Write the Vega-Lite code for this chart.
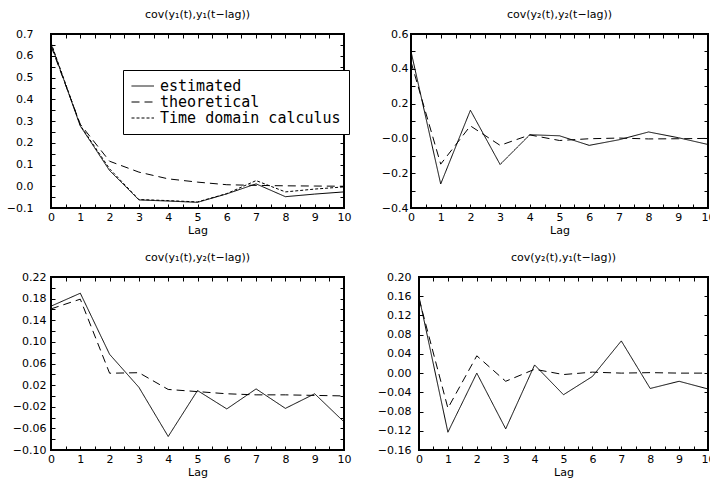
{
  "$schema": "https://vega.github.io/schema/vega-lite/v6.json",
  "background": "white",
  "padding": {"left": 5, "top": 8, "right": 0, "bottom": 0},
  "data": {"values": [
    {"p":"a","lag":0,"s":"estimated","v":0.655},{"p":"a","lag":1,"s":"estimated","v":0.277},{"p":"a","lag":2,"s":"estimated","v":0.072},{"p":"a","lag":3,"s":"estimated","v":-0.063},{"p":"a","lag":4,"s":"estimated","v":-0.068},{"p":"a","lag":5,"s":"estimated","v":-0.074},{"p":"a","lag":6,"s":"estimated","v":-0.035},{"p":"a","lag":7,"s":"estimated","v":0.011},{"p":"a","lag":8,"s":"estimated","v":-0.048},{"p":"a","lag":9,"s":"estimated","v":-0.036},{"p":"a","lag":10,"s":"estimated","v":-0.026},
    {"p":"a","lag":0,"s":"theoretical","v":0.645},{"p":"a","lag":1,"s":"theoretical","v":0.285},{"p":"a","lag":2,"s":"theoretical","v":0.115},{"p":"a","lag":3,"s":"theoretical","v":0.065},{"p":"a","lag":4,"s":"theoretical","v":0.034},{"p":"a","lag":5,"s":"theoretical","v":0.019},{"p":"a","lag":6,"s":"theoretical","v":0.007},{"p":"a","lag":7,"s":"theoretical","v":0.004},{"p":"a","lag":8,"s":"theoretical","v":0.002},{"p":"a","lag":9,"s":"theoretical","v":0.001},{"p":"a","lag":10,"s":"theoretical","v":0.0},
    {"p":"a","lag":0,"s":"Time domain calculus","v":0.66},{"p":"a","lag":1,"s":"Time domain calculus","v":0.28},{"p":"a","lag":2,"s":"Time domain calculus","v":0.08},{"p":"a","lag":3,"s":"Time domain calculus","v":-0.061},{"p":"a","lag":4,"s":"Time domain calculus","v":-0.066},{"p":"a","lag":5,"s":"Time domain calculus","v":-0.072},{"p":"a","lag":6,"s":"Time domain calculus","v":-0.034},{"p":"a","lag":7,"s":"Time domain calculus","v":0.026},{"p":"a","lag":8,"s":"Time domain calculus","v":-0.026},{"p":"a","lag":9,"s":"Time domain calculus","v":-0.013},{"p":"a","lag":10,"s":"Time domain calculus","v":-0.003},
    {"p":"b","lag":0,"s":"estimated","v":0.5},{"p":"b","lag":1,"s":"estimated","v":-0.262},{"p":"b","lag":2,"s":"estimated","v":0.162},{"p":"b","lag":3,"s":"estimated","v":-0.15},{"p":"b","lag":4,"s":"estimated","v":0.021},{"p":"b","lag":5,"s":"estimated","v":0.015},{"p":"b","lag":6,"s":"estimated","v":-0.04},{"p":"b","lag":7,"s":"estimated","v":-0.008},{"p":"b","lag":8,"s":"estimated","v":0.037},{"p":"b","lag":9,"s":"estimated","v":0.004},{"p":"b","lag":10,"s":"estimated","v":-0.035},
    {"p":"b","lag":0,"s":"theoretical","v":0.44},{"p":"b","lag":1,"s":"theoretical","v":-0.148},{"p":"b","lag":2,"s":"theoretical","v":0.072},{"p":"b","lag":3,"s":"theoretical","v":-0.04},{"p":"b","lag":4,"s":"theoretical","v":0.02},{"p":"b","lag":5,"s":"theoretical","v":-0.012},{"p":"b","lag":6,"s":"theoretical","v":-0.002},{"p":"b","lag":7,"s":"theoretical","v":0.002},{"p":"b","lag":8,"s":"theoretical","v":-0.003},{"p":"b","lag":9,"s":"theoretical","v":-0.002},{"p":"b","lag":10,"s":"theoretical","v":0.0},
    {"p":"c","lag":0,"s":"estimated","v":0.166},{"p":"c","lag":1,"s":"estimated","v":0.19},{"p":"c","lag":2,"s":"estimated","v":0.077},{"p":"c","lag":3,"s":"estimated","v":0.016},{"p":"c","lag":4,"s":"estimated","v":-0.075},{"p":"c","lag":5,"s":"estimated","v":0.01},{"p":"c","lag":6,"s":"estimated","v":-0.024},{"p":"c","lag":7,"s":"estimated","v":0.013},{"p":"c","lag":8,"s":"estimated","v":-0.023},{"p":"c","lag":9,"s":"estimated","v":0.004},{"p":"c","lag":10,"s":"estimated","v":-0.048},
    {"p":"c","lag":0,"s":"theoretical","v":0.161},{"p":"c","lag":1,"s":"theoretical","v":0.179},{"p":"c","lag":2,"s":"theoretical","v":0.042},{"p":"c","lag":3,"s":"theoretical","v":0.043},{"p":"c","lag":4,"s":"theoretical","v":0.012},{"p":"c","lag":5,"s":"theoretical","v":0.008},{"p":"c","lag":6,"s":"theoretical","v":0.004},{"p":"c","lag":7,"s":"theoretical","v":0.002},{"p":"c","lag":8,"s":"theoretical","v":0.002},{"p":"c","lag":9,"s":"theoretical","v":0.001},{"p":"c","lag":10,"s":"theoretical","v":0.0},
    {"p":"d","lag":0,"s":"estimated","v":0.159},{"p":"d","lag":1,"s":"estimated","v":-0.123},{"p":"d","lag":2,"s":"estimated","v":0.0},{"p":"d","lag":3,"s":"estimated","v":-0.116},{"p":"d","lag":4,"s":"estimated","v":0.017},{"p":"d","lag":5,"s":"estimated","v":-0.045},{"p":"d","lag":6,"s":"estimated","v":-0.007},{"p":"d","lag":7,"s":"estimated","v":0.067},{"p":"d","lag":8,"s":"estimated","v":-0.032},{"p":"d","lag":9,"s":"estimated","v":-0.017},{"p":"d","lag":10,"s":"estimated","v":-0.033},
    {"p":"d","lag":0,"s":"theoretical","v":0.155},{"p":"d","lag":1,"s":"theoretical","v":-0.073},{"p":"d","lag":2,"s":"theoretical","v":0.036},{"p":"d","lag":3,"s":"theoretical","v":-0.017},{"p":"d","lag":4,"s":"theoretical","v":0.008},{"p":"d","lag":5,"s":"theoretical","v":-0.003},{"p":"d","lag":6,"s":"theoretical","v":0.002},{"p":"d","lag":7,"s":"theoretical","v":0.0},{"p":"d","lag":8,"s":"theoretical","v":0.001},{"p":"d","lag":9,"s":"theoretical","v":0.0},{"p":"d","lag":10,"s":"theoretical","v":0.0}
  ]},
  "vconcat": [
    {
      "hconcat": [
        {
          "title": "cov(y₁(t),y₁(t−lag))",
          "width": 293, "height": 174,
          "transform": [{"filter": "datum.p == 'a'"}],
          "layer": [
            {
              "mark": {"type": "line", "color": "black", "strokeWidth": 1},
              "encoding": {
                "x": {"field": "lag", "type": "quantitative", "scale": {"domain": [0, 10]},
                  "axis": {"orient": "bottom", "values": [0,0.5,1,1.5,2,2.5,3,3.5,4,4.5,5,5.5,6,6.5,7,7.5,8,8.5,9,9.5,10], "labelExpr": "datum.value % 1 == 0 ? format(datum.value, 'd') : ''", "title": "Lag", "labelPadding": 3, "titlePadding": 2}},
                "y": {"field": "v", "type": "quantitative", "scale": {"domain": [-0.1, 0.7], "nice": false, "zero": false},
                  "axis": {"orient": "left", "values": [-0.1,-0.05,0,0.05,0.1,0.15,0.2,0.25,0.3,0.35,0.4,0.45,0.5,0.55,0.6,0.65,0.7], "labelExpr": "abs(round(datum.value*20)) % 2 == 0 ? format(datum.value, '.1f') : ''", "title": null, "labelPadding": 18, "minExtent": 49}},
                "strokeDash": {"field": "s", "type": "nominal",
                  "scale": {"domain": ["estimated", "theoretical", "Time domain calculus"], "range": [[1, 0], [8, 5], [3, 2]]},
                  "legend": {"orient": "none", "legendX": 72, "legendY": 36, "title": null, "fillColor": "white", "strokeColor": "black", "padding": 8, "cornerRadius": 0, "symbolType": "M-1,0H2", "symbolStrokeWidth": 1, "symbolSize": 225, "symbolStrokeColor": "black", "symbolFillColor": "transparent", "labelFont": "DejaVu Sans Mono", "labelFontSize": 15, "labelColor": "black", "labelLimit": 400, "rowPadding": 0, "labelOffset": 13}}
              }
            },
            {
              "mark": {"type": "line", "opacity": 0},
              "encoding": {
                "x": {"field": "lag", "type": "quantitative", "axis": {"orient": "top", "values": [0,0.5,1,1.5,2,2.5,3,3.5,4,4.5,5,5.5,6,6.5,7,7.5,8,8.5,9,9.5,10], "labels": false, "title": null, "minExtent": 0}},
                "y": {"field": "v", "type": "quantitative", "axis": {"orient": "right", "values": [-0.1,-0.05,0,0.05,0.1,0.15,0.2,0.25,0.3,0.35,0.4,0.45,0.5,0.55,0.6,0.65,0.7], "labels": false, "title": null, "minExtent": 0}},
                "detail": {"field": "s"}
              }
            }
          ],
          "resolve": {"axis": {"x": "independent", "y": "independent"}}
        },
        {
          "title": "cov(y₂(t),y₂(t−lag))",
          "width": 297, "height": 174,
          "transform": [{"filter": "datum.p == 'b'"}],
          "layer": [
            {
              "mark": {"type": "line", "color": "black", "strokeWidth": 1},
              "encoding": {
                "x": {"field": "lag", "type": "quantitative", "scale": {"domain": [0, 10]},
                  "axis": {"orient": "bottom", "values": [0,0.5,1,1.5,2,2.5,3,3.5,4,4.5,5,5.5,6,6.5,7,7.5,8,8.5,9,9.5,10], "labelExpr": "datum.value % 1 == 0 ? format(datum.value, 'd') : ''", "title": "Lag", "labelPadding": 3, "titlePadding": 2}},
                "y": {"field": "v", "type": "quantitative", "scale": {"domain": [-0.4, 0.6], "nice": false, "zero": false},
                  "axis": {"orient": "left", "values": [-0.4,-0.3,-0.2,-0.1,0,0.1,0.2,0.3,0.4,0.5,0.6], "labelExpr": "abs(round(datum.value*10)) % 2 == 0 ? (datum.value == 0 ? '−0.0' : format(datum.value, '.1f')) : ''", "title": null, "labelPadding": 3, "minExtent": 47}},
                "strokeDash": {"field": "s", "type": "nominal",
                  "scale": {"domain": ["estimated", "theoretical", "Time domain calculus"], "range": [[1, 0], [8, 5], [3, 2]]}}
              }
            },
            {
              "mark": {"type": "line", "opacity": 0},
              "encoding": {
                "x": {"field": "lag", "type": "quantitative", "axis": {"orient": "top", "values": [0,0.5,1,1.5,2,2.5,3,3.5,4,4.5,5,5.5,6,6.5,7,7.5,8,8.5,9,9.5,10], "labels": false, "title": null, "minExtent": 0}},
                "y": {"field": "v", "type": "quantitative", "axis": {"orient": "right", "values": [-0.4,-0.3,-0.2,-0.1,0,0.1,0.2,0.3,0.4,0.5,0.6], "labels": false, "title": null, "minExtent": 0}},
                "detail": {"field": "s"}
              }
            }
          ],
          "resolve": {"axis": {"x": "independent", "y": "independent"}}
        }
      ],
      "spacing": 15
    },
    {
      "hconcat": [
        {
          "title": "cov(y₁(t),y₂(t−lag))",
          "width": 293, "height": 173,
          "transform": [{"filter": "datum.p == 'c'"}],
          "layer": [
            {
              "mark": {"type": "line", "color": "black", "strokeWidth": 1},
              "encoding": {
                "x": {"field": "lag", "type": "quantitative", "scale": {"domain": [0, 10]},
                  "axis": {"orient": "bottom", "values": [0,0.5,1,1.5,2,2.5,3,3.5,4,4.5,5,5.5,6,6.5,7,7.5,8,8.5,9,9.5,10], "labelExpr": "datum.value % 1 == 0 ? format(datum.value, 'd') : ''", "title": "Lag", "labelPadding": 3, "titlePadding": 2}},
                "y": {"field": "v", "type": "quantitative", "scale": {"domain": [-0.1, 0.22], "nice": false, "zero": false},
                  "axis": {"orient": "left", "values": [-0.1,-0.08,-0.06,-0.04,-0.02,0,0.02,0.04,0.06,0.08,0.1,0.12,0.14,0.16,0.18,0.2,0.22], "labelExpr": "abs(round(datum.value*50)) % 2 == 1 ? format(datum.value, '.2f') : ''", "title": null, "labelPadding": 5, "minExtent": 49}},
                "strokeDash": {"field": "s", "type": "nominal",
                  "scale": {"domain": ["estimated", "theoretical", "Time domain calculus"], "range": [[1, 0], [8, 5], [3, 2]]}}
              }
            },
            {
              "mark": {"type": "line", "opacity": 0},
              "encoding": {
                "x": {"field": "lag", "type": "quantitative", "axis": {"orient": "top", "values": [0,0.5,1,1.5,2,2.5,3,3.5,4,4.5,5,5.5,6,6.5,7,7.5,8,8.5,9,9.5,10], "labels": false, "title": null, "minExtent": 0}},
                "y": {"field": "v", "type": "quantitative", "axis": {"orient": "right", "values": [-0.1,-0.08,-0.06,-0.04,-0.02,0,0.02,0.04,0.06,0.08,0.1,0.12,0.14,0.16,0.18,0.2,0.22], "labels": false, "title": null, "minExtent": 0}},
                "detail": {"field": "s"}
              }
            }
          ],
          "resolve": {"axis": {"x": "independent", "y": "independent"}}
        },
        {
          "title": "cov(y₂(t),y₁(t−lag))",
          "width": 289, "height": 173,
          "transform": [{"filter": "datum.p == 'd'"}],
          "layer": [
            {
              "mark": {"type": "line", "color": "black", "strokeWidth": 1},
              "encoding": {
                "x": {"field": "lag", "type": "quantitative", "scale": {"domain": [0, 10]},
                  "axis": {"orient": "bottom", "values": [0,0.5,1,1.5,2,2.5,3,3.5,4,4.5,5,5.5,6,6.5,7,7.5,8,8.5,9,9.5,10], "labelExpr": "datum.value % 1 == 0 ? format(datum.value, 'd') : ''", "title": "Lag", "labelPadding": 3, "titlePadding": 2}},
                "y": {"field": "v", "type": "quantitative", "scale": {"domain": [-0.16, 0.2], "nice": false, "zero": false},
                  "axis": {"orient": "left", "values": [-0.16,-0.12,-0.08,-0.04,0,0.04,0.08,0.12,0.16,0.2], "format": ".2f", "title": null, "labelPadding": 8, "minExtent": 62}},
                "strokeDash": {"field": "s", "type": "nominal",
                  "scale": {"domain": ["estimated", "theoretical", "Time domain calculus"], "range": [[1, 0], [8, 5], [3, 2]]}}
              }
            },
            {
              "mark": {"type": "line", "opacity": 0},
              "encoding": {
                "x": {"field": "lag", "type": "quantitative", "axis": {"orient": "top", "values": [0,0.5,1,1.5,2,2.5,3,3.5,4,4.5,5,5.5,6,6.5,7,7.5,8,8.5,9,9.5,10], "labels": false, "title": null, "minExtent": 0}},
                "y": {"field": "v", "type": "quantitative", "axis": {"orient": "right", "values": [-0.16,-0.12,-0.08,-0.04,0,0.04,0.08,0.12,0.16,0.2], "labels": false, "title": null, "minExtent": 0}},
                "detail": {"field": "s"}
              }
            }
          ],
          "resolve": {"axis": {"x": "independent", "y": "independent"}}
        }
      ],
      "spacing": 8
    }
  ],
  "spacing": 15,
  "config": {
    "view": {"stroke": "black", "strokeWidth": 2},
    "axis": {"domain": false, "grid": false, "ticks": true, "tickColor": "black", "tickSize": 4, "offset": -4, "tickWidth": 1, "labelFont": "DejaVu Sans", "labelFontSize": 11, "labelColor": "black", "titleFont": "DejaVu Sans", "titleFontSize": 11, "titleFontWeight": "normal", "titleColor": "black", "labelOverlap": false, "labelFlush": false},
    "title": {"font": "DejaVu Sans", "fontSize": 11, "fontWeight": "normal", "offset": 8, "color": "black"}
  }
}
